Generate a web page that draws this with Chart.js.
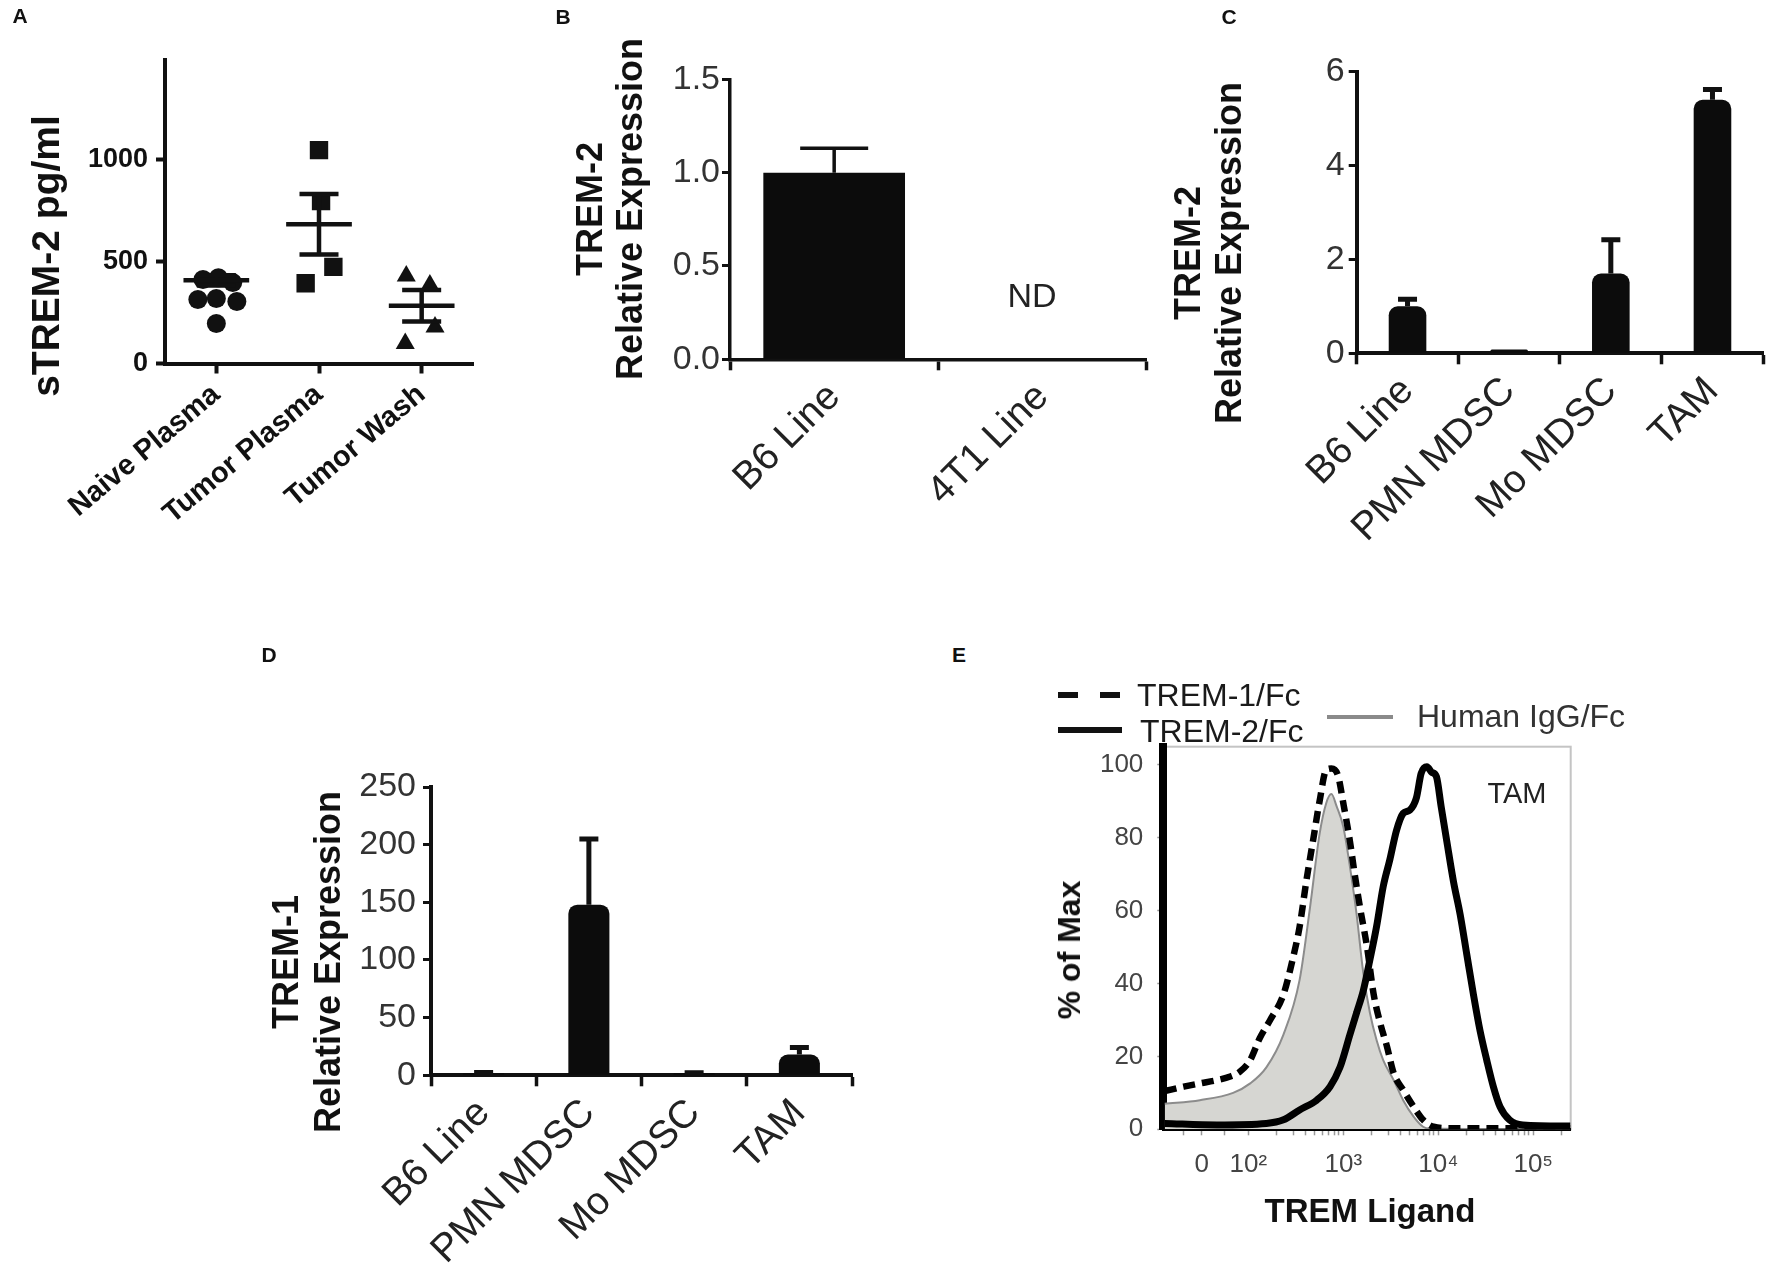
<!DOCTYPE html>
<html>
<head>
<meta charset="utf-8">
<title>TREM-1 / TREM-2 figure</title>
<script src="https://cdn.jsdelivr.net/npm/chart.js@4.4.1/dist/chart.umd.min.js"></script>
<style>
  html, body { margin: 0; padding: 0; background: #fff; }
  #page { position: relative; width: 1772px; height: 1272px; overflow: hidden; font-family: "Liberation Sans", Arial, sans-serif; color: #111; }
  canvas { position: absolute; }
  .lbl { position: absolute; white-space: nowrap; line-height: 1; transform: translate(-50%, -50%); }
  .rot { transform: translate(-50%, -50%) rotate(-90deg); }
  .start { transform: translate(0, -50%); }
  .b { font-weight: bold; }
  .swatch { position: absolute; }
</style>
</head>
<body>
<div id="page">
  <canvas id="panelA" width="530" height="600" style="left:0;top:0"></canvas>
  <canvas id="panelB" width="620" height="560" style="left:540px;top:0"></canvas>
  <canvas id="panelC" width="622" height="542" style="left:1150px;top:0"></canvas>
  <canvas id="panelD" width="620" height="627" style="left:260px;top:645px"></canvas>
  <canvas id="panelE" width="600" height="560" style="left:1000px;top:700px"></canvas>

  <!-- panel letters -->
  <div class="lbl b" style="left:20px;top:15px;font-size:21px">A</div>
  <div class="lbl b" style="left:563px;top:16px;font-size:21px">B</div>
  <div class="lbl b" style="left:1229px;top:16px;font-size:21px">C</div>
  <div class="lbl b" style="left:269px;top:654px;font-size:21px">D</div>
  <div class="lbl b" style="left:959px;top:654px;font-size:21px">E</div>

  <!-- axis titles -->
  <div class="lbl b rot" style="left:45px;top:256px;font-size:39px">sTREM-2 pg/ml</div>

  <div class="lbl b rot" style="left:590px;top:209px;font-size:36px">TREM-2</div>
  <div class="lbl b rot" style="left:630px;top:209px;font-size:36px">Relative Expression</div>
  <div class="lbl" style="left:1032px;top:295px;font-size:34px;color:#222">ND</div>

  <div class="lbl b rot" style="left:1188px;top:253px;font-size:36px">TREM-2</div>
  <div class="lbl b rot" style="left:1229px;top:253px;font-size:36px">Relative Expression</div>

  <div class="lbl b rot" style="left:286px;top:962px;font-size:36px">TREM-1</div>
  <div class="lbl b rot" style="left:328px;top:962px;font-size:36px">Relative Expression</div>

  <div class="lbl b rot" style="left:1069px;top:950px;font-size:32px">% of Max</div>
  <div class="lbl b" style="left:1370px;top:1210px;font-size:33px">TREM Ligand</div>
  <div class="lbl" style="left:1517px;top:793px;font-size:29px;color:#222">TAM</div>

  <!-- panel E legend -->
  <div class="swatch" style="left:1058px;top:692px;width:62px;height:6px;background:repeating-linear-gradient(90deg,#111 0 20px,transparent 20px 42px)"></div>
  <div class="lbl start" style="left:1137px;top:695px;font-size:32px;color:#1a1a1a">TREM-1/Fc</div>
  <div class="swatch" style="left:1058px;top:727px;width:64px;height:6px;background:#111"></div>
  <div class="lbl start" style="left:1140px;top:731px;font-size:32px;color:#1a1a1a">TREM-2/Fc</div>
  <div class="swatch" style="left:1327px;top:715px;width:66px;height:4px;background:#8a8a8a"></div>
  <div class="lbl start" style="left:1417px;top:716px;font-size:32px;color:#333">Human IgG/Fc</div>
</div>

<script>
  // ---------- Panel A: soluble TREM-2 (pg/ml), individual points + mean / SEM
  const aCategories = ['Naive Plasma', 'Tumor Plasma', 'Tumor Wash'];
  const aTicks = [0, 500, 1000];
  const naiveValues = [411, 420, 396, 313, 318, 304, 196];
  const naiveJitter = [-0.13, 0.02, 0.16, -0.18, 0.0, 0.2, 0.0];
  const tumorPlasmaValues = [1045, 795, 473, 393];
  const tumorPlasmaJitter = [0.0, 0.02, 0.14, -0.13];
  const tumorWashValues = [429, 384, 179, 98];
  const tumorWashJitter = [-0.15, 0.08, 0.13, -0.16];
  const aMeans = [407, 682, 283];
  const aSems = [25, 148, 77];

  // ---------- Panel B: TREM-2 in cell lines
  const bCategories = ['B6 Line', '4T1 Line'];
  const bValues = [1.0, null];
  const bErrors = [0.13, 0];
  const bTicks = [0, 0.5, 1.0, 1.5];

  // ---------- Panel C: TREM-2 in sorted cells
  const cCategories = ['B6 Line', 'PMN MDSC', 'Mo MDSC', 'TAM'];
  const cValues = [1.0, 0.08, 1.7, 5.4];
  const cErrors = [0.15, 0, 0.72, 0.22];
  const cTicks = [0, 2, 4, 6];

  // ---------- Panel D: TREM-1 in sorted cells
  const dCategories = ['B6 Line', 'PMN MDSC', 'Mo MDSC', 'TAM'];
  const dValues = [2, 148, 2, 18];
  const dErrors = [0.5, 57, 0.3, 6];
  const dTicks = [0, 50, 100, 150, 200, 250];

  // ---------- Panel E: flow histograms, x in decades (display units of the biexponential axis)
  const eTickPositions = [1.51, 2, 3, 4, 5];
  const eTickLabels = ['0', '10²', '10³', '10⁴', '10⁵'];
  const eLinearMinorTicks = [1.316, 1.754];
  const eYTicks = [0, 20, 40, 60, 80, 100];
  const trem1X = [1.12, 1.32, 1.49, 1.67, 1.81, 1.91, 2.02, 2.12, 2.23, 2.37, 2.47, 2.54, 2.61, 2.68, 2.75, 2.82, 2.875, 2.945, 3.0, 3.07, 3.12, 3.175, 3.25, 3.32, 3.39, 3.46, 3.53, 3.63, 3.74, 3.84, 3.95, 4.12, 4.6, 5.39];
  const trem1Y = [10.5, 11.7, 12.6, 13.5, 14.5, 15.8, 19, 25, 30, 37, 47, 55.6, 68, 79, 90, 98.6, 99, 97, 89.5, 79, 70, 61, 50, 37, 29, 22.7, 15.4, 10.8, 6.2, 2.6, 0.7, 0.3, 0.3, 0.3];
  const trem2X = [1.12, 1.67, 2.19, 2.37, 2.54, 2.72, 2.86, 2.965, 3.07, 3.14, 3.21, 3.28, 3.35, 3.42, 3.49, 3.56, 3.63, 3.70, 3.77, 3.82, 3.88, 3.93, 3.98, 4.03, 4.09, 4.16, 4.23, 4.30, 4.37, 4.44, 4.51, 4.58, 4.65, 4.75, 4.89, 5.39];
  const trem2Y = [1.6, 1.2, 1.6, 2.6, 5.3, 8, 11.7, 17, 26, 32, 38, 46.5, 55.6, 66.6, 74, 82, 86.7, 87.6, 91, 97.7, 99.5, 98, 96.8, 88.6, 79, 68, 59, 48, 37, 27, 19, 11.7, 6.2, 2.6, 1.2, 0.9];
  const igX = [1.12, 1.49, 1.84, 2.02, 2.19, 2.37, 2.54, 2.65, 2.75, 2.82, 2.875, 2.93, 3.0, 3.07, 3.14, 3.21, 3.28, 3.35, 3.42, 3.53, 3.63, 3.74, 3.84, 3.91, 5.39];
  const igY = [7, 8, 10, 12.6, 17, 26, 41, 61, 81, 89.5, 92, 88.6, 83, 72, 59, 43, 32, 24.5, 19, 13.5, 8, 3.5, 0.7, 0.2, 0];

  const FONT = '"Liberation Sans", Arial, sans-serif';
  Chart.defaults.font.family = FONT;
  Chart.defaults.animation = false;
  Chart.defaults.responsive = false;
  Chart.defaults.plugins.legend.display = false;
  Chart.defaults.plugins.tooltip.enabled = false;

  function setTicks(values) {
    return function (scale) { scale.ticks = values.map(function (v) { return { value: v }; }); };
  }
  function setWidth(px) {
    return function (scale) { scale.width = px; };
  }
  function setHeight(px) {
    return function (scale) { scale.height = px; };
  }
  function jittered(center, values, jitter) {
    return values.map(function (v, k) { return { x: center + jitter[k], y: v }; });
  }
  function pairs(xs, ys) {
    return xs.map(function (x, k) { return { x: x, y: ys[k] }; });
  }

  // log minor tick marks (2..9 in each decade) plus the few on the linear part near 0
  const eAllTicks = eTickPositions.concat(eLinearMinorTicks);
  [2, 3, 4, 5].forEach(function (decade) {
    for (let k = 2; k <= 9; k++) {
      const pos = decade + Math.log10(k);
      if (pos < 5.39) eAllTicks.push(pos);
    }
  });
  eAllTicks.sort(function (a, b) { return a - b; });

  // upward error bars with a cap on top of each bar
  const errorBars = {
    id: 'errorBars',
    afterDatasetsDraw(chart, args, opts) {
      if (!opts || !opts.errors) return;
      const meta = chart.getDatasetMeta(0);
      const yScale = chart.scales.y;
      const values = chart.data.datasets[0].data;
      const ctx = chart.ctx;
      ctx.save();
      ctx.strokeStyle = '#111';
      ctx.lineWidth = opts.lineWidth;
      meta.data.forEach(function (bar, i) {
        const err = opts.errors[i];
        if (!err || values[i] === null) return;
        const top = yScale.getPixelForValue(values[i] + err);
        const half = opts.capWidth / 2;
        ctx.beginPath();
        ctx.moveTo(bar.x, bar.y);
        ctx.lineTo(bar.x, top);
        ctx.moveTo(bar.x - half, top);
        ctx.lineTo(bar.x + half, top);
        ctx.stroke();
      });
      ctx.restore();
    }
  };

  // mean line with +/- SEM whiskers for the dot plot
  const meanSem = {
    id: 'meanSem',
    afterDatasetsDraw(chart, args, opts) {
      const { ctx } = chart;
      const x = chart.scales.x;
      const y = chart.scales.y;
      ctx.save();
      ctx.strokeStyle = '#111';
      ctx.lineWidth = opts.lineWidth;
      opts.means.forEach(function (mean, i) {
        const sem = opts.sems[i];
        const yMean = y.getPixelForValue(mean);
        const yHi = y.getPixelForValue(mean + sem);
        const yLo = y.getPixelForValue(mean - sem);
        const xc = x.getPixelForValue(i);
        ctx.beginPath();
        ctx.moveTo(x.getPixelForValue(i - opts.meanHalf), yMean);
        ctx.lineTo(x.getPixelForValue(i + opts.meanHalf), yMean);
        ctx.moveTo(xc, yHi);
        ctx.lineTo(xc, yLo);
        ctx.moveTo(x.getPixelForValue(i - opts.capHalf), yHi);
        ctx.lineTo(x.getPixelForValue(i + opts.capHalf), yHi);
        ctx.moveTo(x.getPixelForValue(i - opts.capHalf), yLo);
        ctx.lineTo(x.getPixelForValue(i + opts.capHalf), yLo);
        ctx.stroke();
      });
      ctx.restore();
    }
  };

  // thin grey box round the histogram plot
  const plotFrame = {
    id: 'plotFrame',
    beforeDraw(chart, args, opts) {
      const { ctx, chartArea } = chart;
      ctx.save();
      ctx.strokeStyle = opts.color;
      ctx.lineWidth = opts.width;
      ctx.strokeRect(chartArea.left, chartArea.top, chartArea.right - chartArea.left, chartArea.bottom - chartArea.top);
      ctx.restore();
    }
  };

  // ---------- A
  new Chart(document.getElementById('panelA'), {
    type: 'scatter',
    plugins: [meanSem],
    data: {
      datasets: [
        { data: jittered(0, naiveValues, naiveJitter), pointStyle: 'circle', pointRadius: 9.5, backgroundColor: '#111', borderColor: '#111', borderWidth: 0 },
        { data: jittered(1, tumorPlasmaValues, tumorPlasmaJitter), pointStyle: 'rect', pointRadius: 13, backgroundColor: '#111', borderColor: '#111', borderWidth: 0 },
        { data: jittered(2, tumorWashValues, tumorWashJitter), pointStyle: 'triangle', pointRadius: 11, backgroundColor: '#111', borderColor: '#111', borderWidth: 0 }
      ]
    },
    options: {
      layout: { padding: { top: 60, right: 57, left: 0, bottom: 0 } },
      plugins: {
        meanSem: { means: aMeans, sems: aSems, meanHalf: 0.32, capHalf: 0.19, lineWidth: 4.5 }
      },
      scales: {
        x: {
          type: 'linear',
          min: -0.5,
          max: 2.5,
          afterBuildTicks: setTicks([0, 1, 2]),
          afterFit: setHeight(236.5),
          grid: { display: true, drawOnChartArea: false, drawTicks: true, tickLength: 10, tickWidth: 4, tickColor: '#111' },
          border: { display: true, color: '#111', width: 4 },
          ticks: {
            autoSkip: false,
            minRotation: 40,
            maxRotation: 40,
            padding: 4,
            color: '#111',
            font: { size: 29, weight: 'bold' },
            callback(value) { return aCategories[value]; }
          }
        },
        y: {
          min: 0,
          max: 1486,
          afterBuildTicks: setTicks(aTicks),
          afterFit: setWidth(165),
          grid: { display: true, drawOnChartArea: false, drawTicks: true, tickLength: 9, tickWidth: 4, tickColor: '#111' },
          border: { display: true, color: '#111', width: 4 },
          ticks: { padding: 8, color: '#111', font: { size: 27, weight: 'bold' }, callback(value) { return String(value); } }
        }
      }
    }
  });

  // ---------- bar panels B, C, D
  function barPanel(id, cfg) {
    return new Chart(document.getElementById(id), {
      type: 'bar',
      plugins: [errorBars],
      data: {
        labels: cfg.labels,
        datasets: [{
          data: cfg.values,
          backgroundColor: '#0c0c0c',
          barPercentage: cfg.barPct,
          categoryPercentage: 1,
          borderRadius: cfg.radius,
          borderSkipped: 'start'
        }]
      },
      options: {
        layout: { padding: cfg.padding },
        plugins: {
          errorBars: { errors: cfg.errors, capWidth: cfg.capWidth, lineWidth: cfg.errWidth }
        },
        scales: {
          x: {
            afterFit: setHeight(cfg.xHeight),
            grid: { display: true, drawOnChartArea: false, drawTicks: true, tickLength: 11, tickWidth: 3.5, tickColor: '#111' },
            border: { display: true, color: '#111', width: cfg.axisWidth },
            ticks: { autoSkip: false, minRotation: 45, maxRotation: 45, padding: 4, color: '#222', font: { size: 39 } }
          },
          y: {
            min: 0,
            max: cfg.max,
            afterBuildTicks: setTicks(cfg.ticks),
            afterFit: setWidth(cfg.yWidth),
            grid: { display: true, drawOnChartArea: false, drawTicks: true, tickLength: 8, tickWidth: 3, tickColor: '#111' },
            border: { display: true, color: '#111', width: cfg.axisWidth },
            ticks: { padding: cfg.yPad, color: '#333', font: { size: 34 }, callback: cfg.format }
          }
        }
      }
    });
  }

  barPanel('panelB', {
    labels: bCategories, values: bValues, errors: bErrors, ticks: bTicks, max: 1.5,
    barPct: 0.68, radius: 0, capWidth: 68, errWidth: 3.5, axisWidth: 3.5,
    padding: { top: 79.3, right: 13.3, left: 0, bottom: 0 }, yWidth: 190, xHeight: 200.7, yPad: 2,
    format(v) { return v.toFixed(1); }
  });

  barPanel('panelC', {
    labels: cCategories, values: cValues, errors: cErrors, ticks: cTicks, max: 6,
    barPct: 0.37, radius: { topLeft: 9, topRight: 9 }, capWidth: 19, errWidth: 5, axisWidth: 4,
    padding: { top: 71.7, right: 8.7, left: 0, bottom: 0 }, yWidth: 206.7, xHeight: 188.7, yPad: 4,
    format(v) { return String(v); }
  });

  barPanel('panelD', {
    labels: dCategories, values: dValues, errors: dErrors, ticks: dTicks, max: 250,
    barPct: 0.39, radius: { topLeft: 9, topRight: 9 }, capWidth: 19, errWidth: 5, axisWidth: 4,
    padding: { top: 142, right: 28, left: 0, bottom: 0 }, yWidth: 171, xHeight: 196.7, yPad: 7,
    format(v) { return String(v); }
  });

  // ---------- E
  new Chart(document.getElementById('panelE'), {
    type: 'line',
    plugins: [plotFrame],
    data: {
      datasets: [
        { label: 'TREM-2/Fc', data: pairs(trem2X, trem2Y), borderColor: '#000', borderWidth: 7, pointRadius: 0, cubicInterpolationMode: 'monotone', fill: false },
        { label: 'TREM-1/Fc', data: pairs(trem1X, trem1Y), borderColor: '#000', borderWidth: 6.5, borderDash: [12, 7], pointRadius: 0, cubicInterpolationMode: 'monotone', fill: false },
        { label: 'Human IgG/Fc', data: pairs(igX, igY), borderColor: '#8c8c8c', borderWidth: 2, backgroundColor: '#d6d6d2', pointRadius: 0, cubicInterpolationMode: 'monotone', fill: 'origin' }
      ]
    },
    options: {
      layout: { padding: { top: 46.7, right: 29.3, left: 0, bottom: 0 } },
      plugins: {
        plotFrame: { color: '#c4c4c4', width: 2 }
      },
      scales: {
        x: {
          type: 'linear',
          min: 1.105,
          max: 5.394,
          afterBuildTicks: setTicks(eAllTicks),
          afterFit: setHeight(130.7),
          grid: { display: true, drawOnChartArea: false, drawTicks: true, tickLength: 6, tickWidth: 1.5, tickColor: '#999' },
          border: { display: true, color: '#000', width: 3 },
          ticks: {
            autoSkip: false,
            maxRotation: 0,
            padding: 14,
            color: '#444',
            font: { size: 26 },
            callback(value) {
              const i = eTickPositions.indexOf(value);
              return i >= 0 ? eTickLabels[i] : '';
            }
          }
        },
        y: {
          min: 0,
          max: 105,
          afterBuildTicks: setTicks(eYTicks),
          afterFit: setWidth(163.3),
          grid: { display: true, drawOnChartArea: false, drawTicks: true, tickLength: 6, tickWidth: 1.5, tickColor: '#999' },
          border: { display: true, color: '#000', width: 8 },
          ticks: { padding: 14, color: '#444', font: { size: 26 } }
        }
      }
    }
  });
</script>
</body>
</html>
